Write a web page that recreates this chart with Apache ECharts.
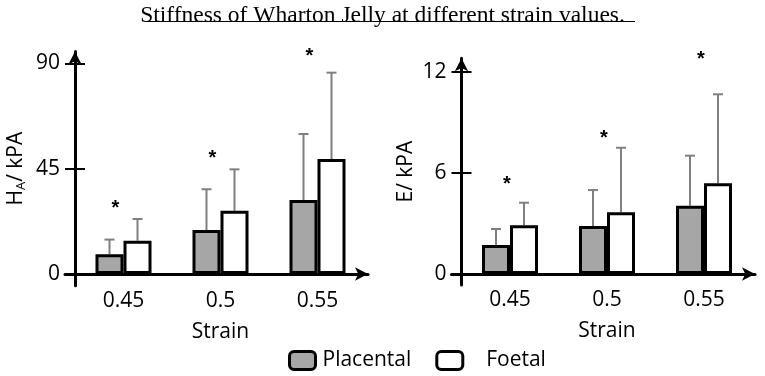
<!DOCTYPE html>
<html>
<head>
<meta charset="utf-8">
<script src="https://cdn.jsdelivr.net/npm/echarts@6/dist/echarts.min.js"></script>
<style>
    html, body {margin: 0; padding: 0; background: #fff;}
    #main {width: 765px; height: 376px;}
</style>
</head>
<body>
<div id="main"></div>
<script>
    'use strict';

    // 横轴 应变
    var strains = ['0.45', '0.5', '0.55'];
    // 左图 H_A (kPA): 柱高, 误差线顶端, 星号位置
    var haPlacental = [8.4, 18.8, 31.6];
    var haPlacentalTop = [14.7, 36.2, 59.8];
    var haFoetal = [14.2, 27.0, 49.1];
    var haFoetalTop = [23.5, 44.7, 86.0];
    var haStars = [27.8, 49.5, 93.0];
    var haTicks = [0, 45, 90];
    // 右图 E (kPA)
    var ePlacental = [1.72, 2.85, 4.05];
    var ePlacentalTop = [2.67, 4.98, 7.02];
    var eFoetal = [2.9, 3.66, 5.38];
    var eFoetalTop = [4.23, 7.49, 10.66];
    var eStars = [5.34, 8.05, 12.73];
    var eTicks = [0, 6, 12];

    var FONT = 'Open Sans';
    var FS = 21;
    var BAR_W = 28;

    function errData(vals, tops) {
        return vals.map(function (v, i) {
            return [i, v, tops[i]];
        });
    }

    // 误差线
    function errorBar(offset) {
        return function (params, api) {
            var b = api.coord([api.value(0), api.value(1)]);
            var t = api.coord([api.value(0), api.value(2)]);
            var cx = b[0] + offset;
            var st = {stroke: '#7f7f7f', lineWidth: 2};
            return {
                type: 'group',
                children: [
                    {type: 'line', shape: {x1: cx, y1: b[1], x2: cx, y2: t[1]}, style: st},
                    {type: 'line', shape: {x1: cx - 5, y1: t[1], x2: cx + 5, y2: t[1]}, style: st}
                ]
            };
        };
    }

    // 星号
    function star(offset) {
        return function (params, api) {
            var p = api.coord([api.value(0), api.value(1)]);
            return {
                type: 'text',
                x: p[0] + offset,
                y: p[1],
                style: {text: '*', fill: '#000', font: 'bold 20px "Liberation Sans"', align: 'center', verticalAlign: 'middle'}
            };
        };
    }

    function mainY(grid, min, max, ticks, name, gap) {
        return {
            type: 'value', gridIndex: grid, min: min, max: max, position: 'left',
            axisLine: {show: true, onZero: false, symbol: ['none', 'arrow'], symbolSize: [10, 13], lineStyle: {color: '#000', width: 3}},
            axisTick: {show: true, length: 10, customValues: ticks, lineStyle: {color: '#000', width: 2}},
            axisLabel: {customValues: ticks, margin: 15, color: '#000', fontFamily: FONT, fontSize: FS},
            splitLine: {show: false},
            name: name, nameLocation: 'middle', nameGap: gap, nameRotate: 90,
            nameTextStyle: {
                color: '#000', fontFamily: FONT, fontSize: FS,
                rich: {
                    a: {fontFamily: FONT, fontSize: FS, color: '#000'},
                    s: {fontFamily: FONT, fontSize: 13, color: '#000', padding: [11, 0, 0, 0]}
                }
            }
        };
    }

    // 刻度线穿过轴线, 内侧一半
    function innerY(grid, min, max, ticks) {
        return {
            type: 'value', gridIndex: grid, min: min, max: max, position: 'left',
            axisLine: {show: false, onZero: false},
            axisTick: {show: true, inside: true, length: 10, customValues: ticks, lineStyle: {color: '#000', width: 2}},
            axisLabel: {show: false},
            splitLine: {show: false}
        };
    }

    function hiddenY(grid, min, max) {
        return {type: 'value', gridIndex: grid, min: min, max: max, show: false};
    }

    function catX(grid) {
        return {
            type: 'category', gridIndex: grid, data: strains,
            axisLine: {show: false}, axisTick: {show: false},
            axisLabel: {margin: 5, color: '#000', fontFamily: FONT, fontSize: FS},
            name: 'Strain', nameLocation: 'middle', nameGap: 36,
            nameTextStyle: {color: '#000', fontFamily: FONT, fontSize: FS}
        };
    }

    function lineX(grid) {
        return {
            type: 'value', gridIndex: grid, min: 0, max: 1,
            axisLine: {show: true, symbol: ['none', 'arrow'], symbolSize: [10, 13], lineStyle: {color: '#000', width: 3}},
            axisTick: {show: false}, axisLabel: {show: false}, splitLine: {show: false}
        };
    }

    function bars(name, data, xi, yi, color) {
        return {
            name: name, type: 'bar', xAxisIndex: xi, yAxisIndex: yi, data: data,
            barWidth: BAR_W, barGap: '0%',
            itemStyle: {color: color, borderColor: '#000', borderWidth: 3}
        };
    }

    var chart = echarts.init(document.getElementById('main'));
    chart.setOption({
        animation: false,
        backgroundColor: '#fff',
        title: {
            text: 'Stiffness of Wharton Jelly at different strain values.',
            left: 'center', top: -1,
            textStyle: {fontFamily: 'Liberation Serif', fontSize: 23.5, fontWeight: 'normal', color: '#000'}
        },
        graphic: [
            // 标题下划线
            {type: 'rect', left: 146, top: 21, shape: {width: 489, height: 1}, style: {fill: '#000'}}
        ],
        legend: {
            left: 283, top: 345,
            itemWidth: 26, itemHeight: 18, itemGap: 24,
            data: ['Placental', 'Foetal'],
            formatter: function (n) {
                return n === 'Foetal' ? '   ' + n : n;
            },
            itemStyle: {borderColor: '#000', borderWidth: 3},
            textStyle: {fontFamily: FONT, fontSize: FS, color: '#000', padding: [0, 0, 0, 2]}
        },
        grid: [
            {left: 75, top: 51.6, width: 291, height: 234.1},
            {left: 65, top: 51.6, width: 303, height: 234.1},
            {left: 461.5, top: 58.2, width: 291, height: 226.8},
            {left: 451.5, top: 58.2, width: 303.5, height: 226.8}
        ],
        xAxis: [catX(0), lineX(1), catX(2), lineX(3)],
        yAxis: [
            mainY(0, -5, 95, haTicks, '{a|H}{s|A}{a|/ kPA}', 47),
            innerY(0, -5, 95, haTicks),
            hiddenY(1, -5, 95),
            mainY(2, -0.65, 12.8, eTicks, 'E/ kPA', 45),
            innerY(2, -0.65, 12.8, eTicks),
            hiddenY(3, -0.65, 12.8)
        ],
        series: [
            bars('Placental', haPlacental, 0, 0, '#a6a6a6'),
            bars('Foetal', haFoetal, 0, 0, '#fff'),
            {type: 'custom', xAxisIndex: 0, yAxisIndex: 0, renderItem: errorBar(-BAR_W / 2), data: errData(haPlacental, haPlacentalTop), z: 1},
            {type: 'custom', xAxisIndex: 0, yAxisIndex: 0, renderItem: errorBar(BAR_W / 2), data: errData(haFoetal, haFoetalTop), z: 1},
            {type: 'custom', xAxisIndex: 0, yAxisIndex: 0, renderItem: star(-8), data: haStars.map(function (v, i) { return [i, v]; })},

            bars('Placental', ePlacental, 2, 3, '#a6a6a6'),
            bars('Foetal', eFoetal, 2, 3, '#fff'),
            {type: 'custom', xAxisIndex: 2, yAxisIndex: 3, renderItem: errorBar(-BAR_W / 2), data: errData(ePlacental, ePlacentalTop), z: 1},
            {type: 'custom', xAxisIndex: 2, yAxisIndex: 3, renderItem: errorBar(BAR_W / 2), data: errData(eFoetal, eFoetalTop), z: 1},
            {type: 'custom', xAxisIndex: 2, yAxisIndex: 3, renderItem: star(-3), data: eStars.map(function (v, i) { return [i, v]; })}
        ]
    });
</script>
</body>
</html>
